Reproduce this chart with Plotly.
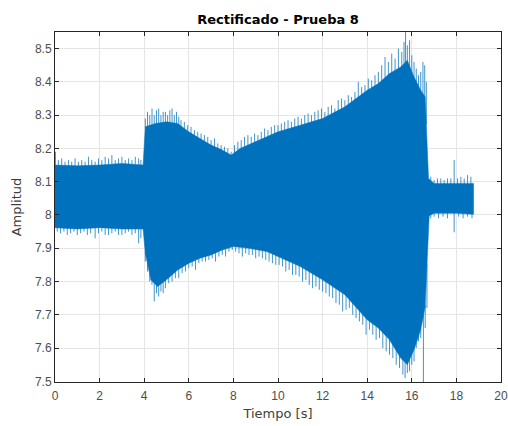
import plotly.graph_objects as go

# Core envelope of the rectified signal
t_up = [0, 1, 2, 3, 3.95, 4.05, 4.5, 5.0, 5.5, 6.0, 6.5, 7.0, 7.5, 7.9, 8.3, 9.0, 9.5,
        10, 11, 12, 13, 14, 14.5, 15, 15.5, 15.8, 16.1, 16.4, 16.6, 16.7, 16.75, 17, 18, 18.77]
upper = [8.15, 8.148, 8.15, 8.155, 8.15, 8.265, 8.275, 8.28, 8.275, 8.25, 8.23, 8.21, 8.195,
         8.18, 8.2, 8.22, 8.235, 8.25, 8.27, 8.29, 8.325, 8.375, 8.395, 8.425, 8.445, 8.465,
         8.415, 8.375, 8.355, 8.2, 8.11, 8.095, 8.095, 8.095]
t_lo = [0, 1, 2, 3, 3.95, 4.05, 4.3, 4.6, 5.0, 5.5, 6.0, 6.5, 7.0, 7.5, 8.0, 8.7, 9.5,
        10, 11, 12, 13, 14, 14.5, 15, 15.5, 15.8, 16.1, 16.4, 16.6, 16.7, 16.78, 17, 18, 18.77]
lower = [7.962, 7.958, 7.962, 7.958, 7.958, 7.885, 7.805, 7.785, 7.805, 7.835, 7.855, 7.87,
         7.88, 7.895, 7.905, 7.9, 7.89, 7.875, 7.845, 7.805, 7.76, 7.685, 7.66, 7.625, 7.57,
         7.55, 7.595, 7.655, 7.725, 7.88, 7.998, 8.005, 8.005, 8.002]

# Peaks sticking out of the core
spk_up_t = [0.02, 0.15, 0.3, 0.45, 0.6, 0.75, 0.9, 1.05, 1.2, 1.35, 1.5, 1.65, 1.8, 1.95, 2.1,
            2.25, 2.4, 2.55, 2.7, 2.85, 3.0, 3.15, 3.3, 3.45, 3.6, 3.75, 3.85,
            4.05, 4.15, 4.25, 4.35, 4.45, 4.55, 4.65, 4.75, 4.85, 4.95, 5.05, 5.15, 5.25, 5.35,
            5.45, 5.55, 5.65, 5.8, 5.95, 6.1, 6.25, 6.4, 6.55, 6.7, 6.85, 7.0, 7.15, 7.3, 7.45,
            7.6, 7.75, 7.9,
            8.05, 8.2, 8.35, 8.5, 8.65, 8.8, 8.95, 9.1, 9.25, 9.4, 9.55, 9.7, 9.85, 10.0, 10.15,
            10.3, 10.45, 10.6, 10.75, 10.9, 11.05, 11.2, 11.35, 11.5, 11.65, 11.8, 11.95, 12.1,
            12.25, 12.4, 12.55, 12.7, 12.85, 13.0, 13.15, 13.3, 13.45, 13.6, 13.75, 13.9, 14.05,
            14.2, 14.35, 14.5, 14.65, 14.8, 14.95, 15.1, 15.25, 15.4, 15.55, 15.65, 15.72, 15.8,
            15.9, 16.0,
            16.1, 16.2, 16.3, 16.4, 16.5, 16.58, 16.65, 16.85, 17.0, 17.15, 17.3, 17.45, 17.6,
            17.75, 17.9, 18.05, 18.2, 18.35, 18.5, 18.65]
spk_up_v = [8.19, 8.165, 8.17, 8.16, 8.165, 8.16, 8.17, 8.16, 8.165, 8.16, 8.175, 8.165, 8.16,
            8.17, 8.165, 8.175, 8.17, 8.18, 8.165, 8.17, 8.175, 8.165, 8.17, 8.165, 8.175, 8.17,
            8.165,
            8.29, 8.31, 8.30, 8.32, 8.30, 8.315, 8.32, 8.30, 8.31, 8.31, 8.30, 8.315, 8.32, 8.30,
            8.31, 8.295, 8.285, 8.28, 8.27, 8.265, 8.255, 8.25, 8.245, 8.24, 8.235, 8.225, 8.23,
            8.215, 8.21, 8.205, 8.2, 8.19,
            8.21, 8.22, 8.225, 8.235, 8.24, 8.235, 8.245, 8.24, 8.25, 8.26, 8.255, 8.265, 8.27,
            8.27, 8.275, 8.28, 8.285, 8.28, 8.29, 8.295, 8.29, 8.30, 8.305, 8.30, 8.31, 8.315,
            8.32, 8.31,
            8.325, 8.33, 8.32, 8.345, 8.35, 8.345, 8.36, 8.355, 8.37, 8.40, 8.385, 8.39, 8.41,
            8.405, 8.42, 8.43, 8.45, 8.475, 8.46, 8.485, 8.47, 8.50, 8.49, 8.52, 8.55, 8.51,
            8.525, 8.48,
            8.46, 8.44, 8.42, 8.43, 8.46, 8.45, 8.40, 8.115, 8.105, 8.11, 8.11, 8.105, 8.11,
            8.11, 8.165, 8.11, 8.115, 8.11, 8.12, 8.115]
spk_lo_t = [0.1, 0.25, 0.4, 0.55, 0.7, 0.85, 1.0, 1.15, 1.3, 1.45, 1.6, 1.8, 1.95, 2.1, 2.25,
            2.4, 2.55, 2.7, 2.85, 3.0, 3.15, 3.3, 3.45, 3.6, 3.75, 3.85,
            4.05, 4.15, 4.25, 4.35, 4.45, 4.55, 4.65, 4.75, 4.85, 4.95, 5.1, 5.25, 5.4, 5.55,
            5.7, 5.85, 6.0, 6.15, 6.3, 6.45, 6.6, 6.75, 6.9, 7.05, 7.2, 7.35, 7.5, 7.65, 7.8,
            7.95,
            8.1, 8.25, 8.4, 8.55, 8.7, 8.85, 9.0, 9.15, 9.3, 9.45, 9.6, 9.75, 9.9, 10.05, 10.2,
            10.35, 10.5, 10.65, 10.8, 10.95, 11.1, 11.25, 11.4, 11.55, 11.7, 11.85, 12.0,
            12.15, 12.3, 12.45, 12.6, 12.75, 12.9, 13.05, 13.2, 13.35, 13.5, 13.65, 13.8, 13.95,
            14.1, 14.25, 14.4, 14.55, 14.7, 14.85, 15.0, 15.15, 15.3, 15.45, 15.6, 15.7, 15.8,
            15.9, 16.0,
            16.1, 16.2, 16.3, 16.4, 16.52, 16.6, 16.68, 16.85, 17.0, 17.2, 17.4, 17.6, 17.9,
            18.1, 18.3, 18.5, 18.7]
spk_lo_v = [7.95, 7.945, 7.95, 7.94, 7.945, 7.95, 7.94, 7.945, 7.95, 7.94, 7.945, 7.93, 7.945,
            7.95, 7.94, 7.94, 7.945, 7.95, 7.94, 7.94, 7.945, 7.95, 7.94, 7.945, 7.915, 7.93,
            7.86, 7.83, 7.80, 7.79, 7.74, 7.765, 7.755, 7.77, 7.765, 7.78, 7.795, 7.80, 7.81,
            7.81, 7.825, 7.83, 7.84, 7.845, 7.835, 7.855, 7.86, 7.86, 7.865, 7.87, 7.86, 7.875,
            7.88, 7.875, 7.89, 7.895,
            7.89, 7.885, 7.875, 7.885, 7.88, 7.88, 7.87, 7.875, 7.87, 7.865, 7.86, 7.855, 7.85,
            7.85, 7.845, 7.83, 7.835, 7.82, 7.82, 7.815, 7.80, 7.805, 7.79, 7.78, 7.785, 7.775,
            7.77,
            7.765, 7.755, 7.75, 7.735, 7.73, 7.71, 7.715, 7.72, 7.70, 7.69, 7.68, 7.67, 7.64,
            7.655, 7.64, 7.625, 7.63, 7.60, 7.59, 7.58, 7.57, 7.55, 7.54, 7.52, 7.51, 7.525,
            7.53, 7.55,
            7.56, 7.60, 7.62, 7.63, 7.49, 7.66, 7.72, 7.99, 7.995, 7.99, 7.995, 7.99, 7.948,
            7.995, 7.99, 7.995, 7.99]

x_ticks = list(range(0, 21, 2))
y_ticks = [7.5, 7.6, 7.7, 7.8, 7.9, 8.0, 8.1, 8.2, 8.3, 8.4, 8.5]
y_labels = ["7.5", "7.6", "7.7", "7.8", "7.9", "8", "8.1", "8.2", "8.3", "8.4", "8.5"]

BLUE = "#0072BD"
FONT = "Liberation Sans, Arial, sans-serif"
LFONT = "DejaVu Sans, sans-serif"


def interp(ts, vs, t):
    for i in range(len(ts) - 1):
        if ts[i] <= t <= ts[i + 1]:
            f = (t - ts[i]) / (ts[i + 1] - ts[i]) if ts[i + 1] > ts[i] else 0
            return vs[i] + f * (vs[i + 1] - vs[i])
    return vs[-1]


fig = go.Figure()
fig.add_trace(go.Scatter(
    x=t_up + t_lo[::-1], y=upper + lower[::-1], fill="toself", fillcolor=BLUE,
    mode="lines", line=dict(width=0.5, color=BLUE), hoverinfo="skip", showlegend=False))

sx, sy = [], []
for t, v in zip(spk_up_t, spk_up_v):
    sx += [t, t, None]
    sy += [interp(t_up, upper, t) - 0.005, v, None]
for t, v in zip(spk_lo_t, spk_lo_v):
    sx += [t, t, None]
    sy += [interp(t_lo, lower, t) + 0.005, v, None]
fig.add_trace(go.Scatter(x=sx, y=sy, mode="lines", line=dict(width=1, color=BLUE),
                         opacity=0.75, hoverinfo="skip", showlegend=False))

axis_common = dict(showline=True, linecolor="#262626", linewidth=1, mirror="ticks",
                   ticks="inside", ticklen=4, tickcolor="#262626", showgrid=True,
                   gridcolor="#e5e5e5", gridwidth=1, zeroline=False, automargin=False,
                   tickfont=dict(family=FONT, size=12, color="#4d4d4d"))

fig.update_layout(
    width=508, height=426, autosize=False, margin=dict(l=55, r=7, t=32, b=44),
    paper_bgcolor="white", plot_bgcolor="white",
    title=dict(text="<b>Rectificado - Prueba 8</b>", x=(55 + 501) / 2 / 508, xanchor="center",
               y=1 - 19 / 426, yanchor="middle",
               font=dict(family=LFONT, size=13, color="#000000")),
    xaxis=dict(range=[0, 20], tickvals=x_ticks, ticktext=[str(v) for v in x_ticks],
               ticklabelstandoff=3,
               title=dict(text="Tiempo [s]", standoff=6,
                          font=dict(family=LFONT, size=13, color="#404040")),
               **axis_common),
    yaxis=dict(range=[7.498, 8.55], tickvals=y_ticks, ticktext=y_labels,
               title=dict(text="Amplitud", standoff=10,
                          font=dict(family=LFONT, size=13, color="#404040")),
               **axis_common),
)
fig.write_html("out.html",
               config={"displayModeBar": False, "responsive": False},
               post_script="document.body.style.margin='0';document.body.style.overflow='hidden';")
